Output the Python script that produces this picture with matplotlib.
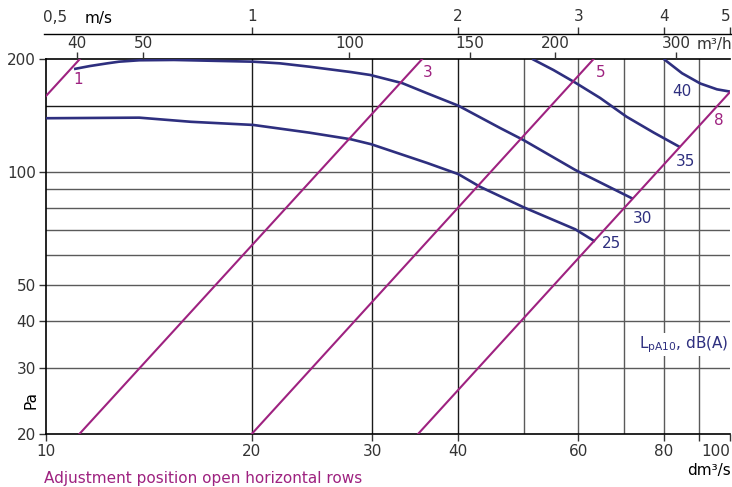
import numpy as np
import matplotlib.pyplot as plt
from matplotlib.ticker import NullLocator, FixedLocator, FixedFormatter

# ---- data ----
# sound level curves (flow dm3/s, pressure Pa)
q25 = [10.0, 13.7, 16.3, 20.1, 24.3, 27.9, 29.9, 36.1, 40.1, 43.1, 49.9, 59.4, 63.5]
p25 = [139.0, 139.5, 136.0, 133.4, 127.2, 122.2, 118.5, 105.6, 98.6, 91.3, 80.5, 70.3, 65.2]

q30 = [11.0, 11.6, 12.3, 12.8, 13.7, 15.4, 20.1, 22.0, 24.3, 27.9, 29.8, 33.2, 36.1, 40.1,
       46.1, 49.9, 59.4, 72.2]
p30 = [188.0, 191.5, 194.7, 196.7, 198.4, 198.8, 196.7, 194.7, 190.7, 184.6, 181.3, 172.4,
       162.0, 150.1, 131.0, 121.6, 101.2, 84.7]

q35 = [51.4, 55.2, 59.4, 64.6, 70.6, 77.4, 84.6]
p35 = [200.0, 186.9, 173.0, 157.4, 140.3, 127.2, 116.3]

q40 = [80.0, 85.1, 90.5, 95.7, 100.0]
p40 = [200.0, 183.2, 172.0, 166.0, 163.7]

# damper adjustment lines: end points (flow, pressure)
adj_names = ['1', '3', '5', '8']
adj_q = [(10.0, 11.22), (11.2, 35.5), (20.0, 63.2), (35.0, 100.0)]
adj_p = [(159.0, 200.0), (20.0, 200.0), (20.0, 200.0), (20.0, 163.3)]
adj_lab_q = [11.15, 36.1, 64.8, 96.2]
adj_lab_p = [176.0, 184.0, 184.5, 136.8]

lvl_names = ['25', '30', '35', '40']
lvl_lab_q = [67.2, 74.4, 86.0, 85.1]
lvl_lab_p = [64.6, 75.3, 106.4, 163.7]

x_ticks = [10, 20, 30, 40, 60, 80, 90, 100]
x_labels = ['10', '20', '30', '40', '60', '80', '', '100']
y_ticks = [20, 30, 40, 50, 100, 200]
x_grid = [20, 30, 40, 50, 60, 70, 80, 90]
y_grid = [30, 40, 50, 60, 70, 80, 90, 100, 150]
m3h_ticks = [40, 50, 100, 150, 200, 300]
ms_ticks = [1, 2, 3, 4, 5]
ms_flow = 20.0  # dm3/s per 1 m/s

navy = '#2e2f7f'
purple = '#9e2280'
dark = '#1a1a1a'
grey = '#5a5a5a'
txt = '#333333'

plt.rcParams['font.family'] = 'DejaVu Sans'
plt.rcParams['font.size'] = 11

fig = plt.figure(figsize=(7.32, 4.87), dpi=100)
L, B, W, H = 0.0624, 0.1088, 0.9349, 0.7701
ax = fig.add_axes([L, B, W, H])
ax.set_xscale('log'); ax.set_yscale('log')
ax.set_xlim(10, 100); ax.set_ylim(20, 200)

for g in x_grid:
  ax.axvline(g, color=dark if g <= 40 else grey, lw=1.0, zorder=1)
for g in y_grid:
  ax.axhline(g, color=dark if g == 150 else grey, lw=1.0, zorder=1)

for q, p in [(q25, p25), (q30, p30), (q35, p35), (q40, p40)]:
  ax.plot(q, p, color=navy, lw=1.9, zorder=3, solid_capstyle='butt', solid_joinstyle='round')
for q, p in zip(adj_q, adj_p):
  ax.plot(q, p, color=purple, lw=1.5, zorder=4)

for n, q, p in zip(adj_names, adj_lab_q, adj_lab_p):
  ax.text(q, p, n, color=purple, ha='center', va='center', fontsize=11, zorder=5)
for n, q, p in zip(lvl_names, lvl_lab_q, lvl_lab_p):
  ax.text(q, p, n, color=navy, ha='center', va='center', fontsize=11, zorder=5)
ax.text(99.5, 34.6, r'L$_{\mathregular{pA10}}$, dB(A)', color=navy, ha='right', va='center',
        fontsize=11, zorder=5, bbox=dict(facecolor='white', edgecolor='none', pad=1))

ax.spines['right'].set_visible(False)
for s in ['left', 'bottom', 'top']:
  ax.spines[s].set_color('black'); ax.spines[s].set_linewidth(1.2)
ax.xaxis.set_major_locator(FixedLocator(x_ticks))
ax.xaxis.set_major_formatter(FixedFormatter(x_labels))
ax.xaxis.set_minor_locator(NullLocator())
ax.yaxis.set_major_locator(FixedLocator(y_ticks))
ax.yaxis.set_major_formatter(FixedFormatter([str(v) for v in y_ticks]))
ax.yaxis.set_minor_locator(NullLocator())
ax.tick_params(axis='both', direction='out', length=5, width=1, colors=txt, labelsize=11, pad=2)
ax.get_xticklabels()[-1].set_ha('right')
ax.set_ylabel('Pa', color='black', fontsize=11)
ax.yaxis.set_label_coords(-0.01, 0.09)

# m3/h scale on top of the plot
axm = ax.twiny()
axm.set_xscale('log'); axm.set_xlim(10, 100)
axm.xaxis.set_major_locator(FixedLocator([m / 3.6 for m in m3h_ticks]))
axm.xaxis.set_major_formatter(FixedFormatter([str(m) for m in m3h_ticks]))
axm.xaxis.set_minor_locator(NullLocator())
for s in axm.spines.values():
  s.set_visible(False)
axm.tick_params(axis='x', direction='out', length=5, width=1, colors=txt, labelsize=11, pad=1)

# m/s scale above
line_y = (487 - 33.5) / 487
axv = fig.add_axes([L - 0.002, line_y - 0.01, W + 0.004, 0.01])
axv.set_xscale('log'); axv.set_xlim(10 * (1 - 0.005), 100 * 1.005)
axv.patch.set_visible(False)
for s in ['left', 'right', 'bottom']:
  axv.spines[s].set_visible(False)
axv.spines['top'].set_linewidth(1.0)
axv.set_yticks([])
axv.xaxis.tick_top()
axv.xaxis.set_major_locator(FixedLocator([v * ms_flow for v in ms_ticks]))
axv.xaxis.set_major_formatter(FixedFormatter([str(v) for v in ms_ticks]))
axv.xaxis.set_minor_locator(NullLocator())
axv.tick_params(axis='x', direction='out', length=5, width=1, colors=txt, labelsize=11, pad=2)
axv.get_xticklabels()[-1].set_ha('right')

fig.text(43 / 732, (487 - 18) / 487, '0,5', color=txt, fontsize=11, ha='left', va='center')
fig.text(85 / 732, (487 - 18) / 487, 'm/s', color='black', fontsize=11, ha='left', va='center')
fig.text(697 / 732, (487 - 45) / 487, 'm³/h', color=txt, fontsize=11, ha='left', va='center')
fig.text(731 / 732, (487 - 470) / 487, 'dm³/s', color='black', fontsize=11, ha='right', va='center')
fig.text(44 / 732, (487 - 478) / 487, 'Adjustment position open horizontal rows', color=purple,
         fontsize=11, ha='left', va='center')

fig.savefig('out.png', dpi=100)
